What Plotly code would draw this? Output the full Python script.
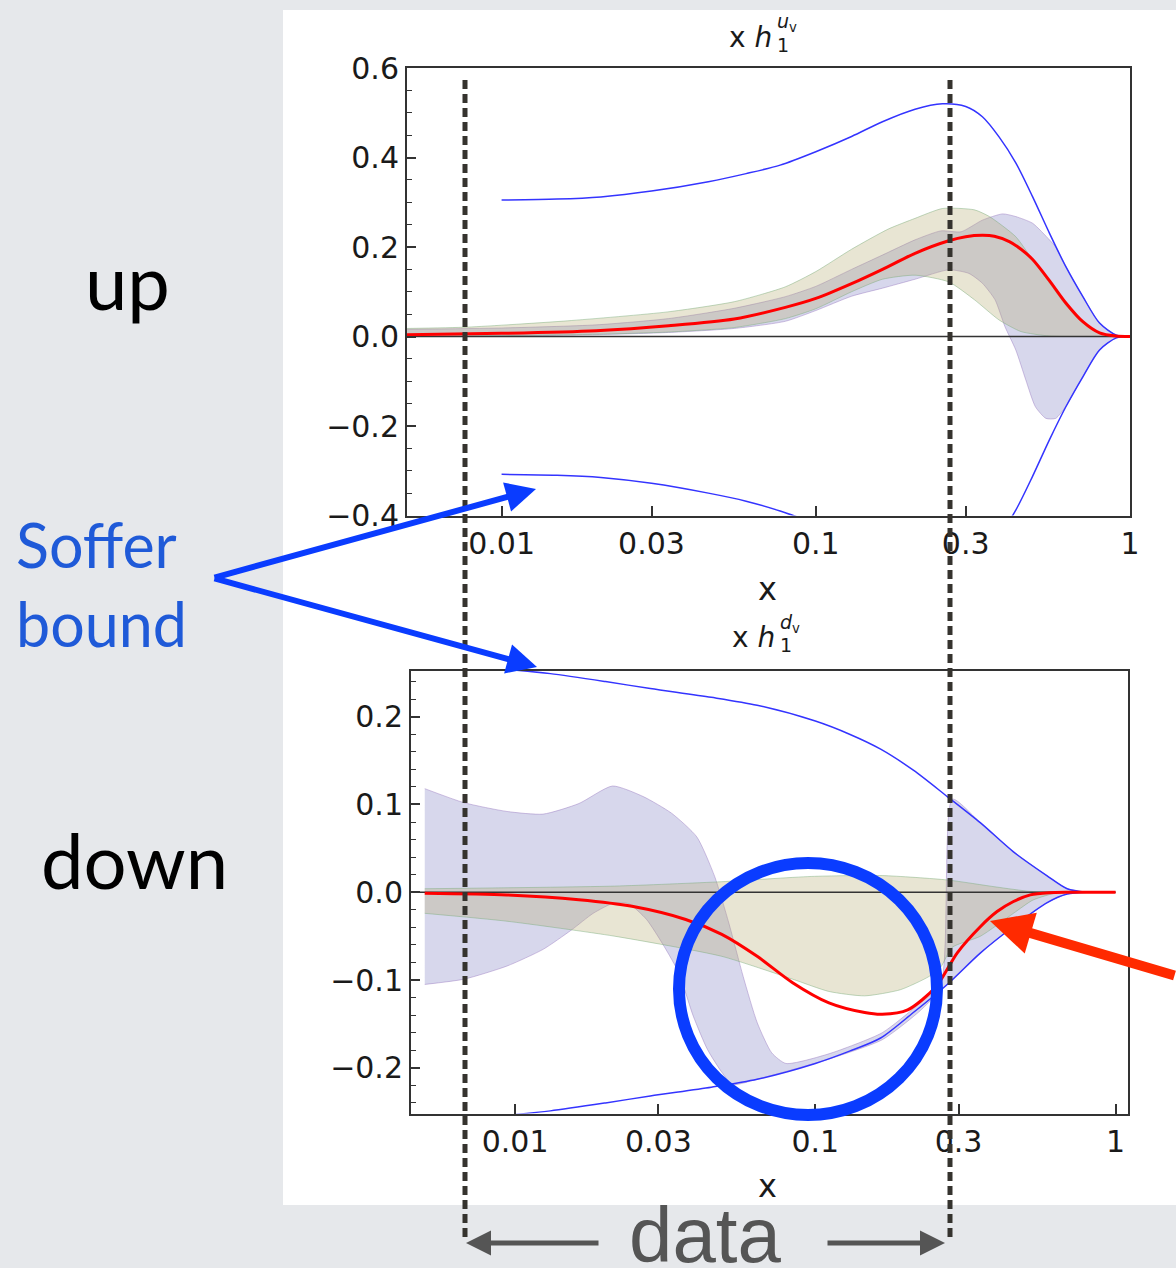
import plotly.graph_objects as go

W, H = 1176, 1268

# ---------------- upper panel: x h1^{u_v} ----------------
soffer_u_x = [0.01, 0.015, 0.0207, 0.03, 0.0455, 0.06, 0.077, 0.1, 0.13, 0.163, 0.207,
              0.253, 0.30, 0.339, 0.383, 0.433, 0.49, 0.554, 0.625, 0.708, 0.80, 0.905, 1.0]
soffer_u_hi = [0.305, 0.307, 0.312, 0.325, 0.346, 0.364, 0.383, 0.413, 0.447, 0.48, 0.508,
               0.52, 0.514, 0.491, 0.446, 0.388, 0.312, 0.231, 0.156, 0.089, 0.03, 0.003, 0.0]
soffer_u_lo = [-0.308, -0.31, -0.315, -0.328, -0.35, -0.368, -0.39, -0.418, -0.447, -0.48, -0.508,
               -0.52, -0.514, -0.491, -0.446, -0.388, -0.312, -0.231, -0.157, -0.09, -0.03, -0.003, 0.0]

band1_u_xhi = [0.005, 0.01, 0.02, 0.034, 0.055, 0.08, 0.1, 0.13, 0.163, 0.207, 0.25, 0.29,
               0.339, 0.393, 0.433, 0.49, 0.554, 0.58, 0.625, 0.708, 0.80, 0.905, 1.0]
band1_u_hi = [0.016, 0.019, 0.026, 0.040, 0.063, 0.089, 0.112, 0.15, 0.182, 0.216, 0.236, 0.234,
              0.26, 0.274, 0.268, 0.253, 0.216, 0.20, 0.156, 0.089, 0.03, 0.003, 0.0]
band1_u_xlo = [0.005, 0.01, 0.02, 0.034, 0.055, 0.08, 0.1, 0.13, 0.163, 0.207, 0.265, 0.307,
               0.339, 0.372, 0.40, 0.433, 0.466, 0.50, 0.54, 0.58, 0.625, 0.708, 0.80, 0.905, 1.0]
band1_u_lo = [0.0, 0.001, 0.004, 0.009, 0.018, 0.034, 0.058, 0.09, 0.108, 0.128, 0.149, 0.141,
              0.119, 0.082, 0.022, -0.03, -0.097, -0.157, -0.183, -0.183, -0.156, -0.089, -0.03, -0.003, 0.0]

band2_u_xhi = [0.005, 0.0078, 0.0162, 0.0338, 0.0552, 0.08, 0.1, 0.13, 0.17, 0.207, 0.253,
               0.32, 0.357, 0.433, 0.49, 0.554, 0.625, 0.708, 0.8, 0.9, 1.0]
band2_u_hi = [0.018, 0.021, 0.035, 0.055, 0.078, 0.111, 0.145, 0.195, 0.24, 0.264, 0.286,
              0.283, 0.268, 0.223, 0.171, 0.12, 0.07, 0.03, 0.008, 0.001, 0.0]
band2_u_xlo = [0.005, 0.01, 0.02, 0.034, 0.055, 0.08, 0.1, 0.13, 0.163, 0.207, 0.265, 0.32,
               0.383, 0.45, 0.554, 0.7, 1.0]
band2_u_lo = [0.0, 0.002, 0.005, 0.01, 0.02, 0.04, 0.062, 0.1, 0.128, 0.137, 0.122, 0.082,
              0.037, 0.011, 0.001, 0.0, 0.0]

central_u_x = [0.005, 0.01, 0.02, 0.034, 0.055, 0.08, 0.1, 0.13, 0.163, 0.207, 0.265, 0.3,
               0.339, 0.37, 0.413, 0.45, 0.49, 0.554, 0.625, 0.708, 0.80, 0.9, 1.0]
central_u = [0.004, 0.007, 0.013, 0.024, 0.039, 0.065, 0.085, 0.118, 0.15, 0.186, 0.214, 0.223,
             0.226, 0.224, 0.212, 0.195, 0.172, 0.125, 0.075, 0.033, 0.008, 0.001, 0.0]

# ---------------- lower panel: x h1^{d_v} ----------------
soffer_d_x = [0.01, 0.0131, 0.02, 0.0282, 0.045, 0.064, 0.1, 0.13, 0.165, 0.212, 0.275,
              0.355, 0.457, 0.59, 0.69, 0.8]
soffer_d_hi = [0.253, 0.249, 0.24, 0.232, 0.222, 0.213, 0.195, 0.18, 0.163, 0.139, 0.109,
               0.079, 0.046, 0.019, 0.004, 0.0]
soffer_d_lo = [-0.253, -0.249, -0.24, -0.232, -0.222, -0.213, -0.195, -0.181, -0.166, -0.137, -0.105,
               -0.069, -0.039, -0.012, -0.002, 0.0]

band1_d_xhi = [0.005, 0.00676, 0.0094, 0.0124, 0.0163, 0.0211, 0.0267, 0.0332, 0.0403, 0.0462,
               0.0515, 0.0575, 0.0641, 0.0716, 0.0798, 0.111, 0.167, 0.22, 0.262, 0.286,
               0.355, 0.457, 0.59, 0.69, 0.8]
band1_d_hi = [0.118, 0.102, 0.092, 0.089, 0.101, 0.121, 0.109, 0.090, 0.063, 0.018,
              -0.035, -0.096, -0.149, -0.183, -0.195, -0.184, -0.160, -0.128, -0.104, 0.106,
              0.079, 0.046, 0.019, 0.004, 0.0]
band1_d_xlo = [0.005, 0.00676, 0.0094, 0.0124, 0.0154, 0.0182, 0.0214, 0.0239, 0.0274, 0.0314,
               0.0351, 0.0392, 0.0437, 0.0488, 0.053, 0.064, 0.111, 0.167, 0.22, 0.274,
               0.355, 0.457, 0.59, 0.69, 0.8]
band1_d_lo = [-0.105, -0.099, -0.084, -0.065, -0.043, -0.024, -0.012, -0.013, -0.031, -0.062,
              -0.092, -0.141, -0.179, -0.205, -0.219, -0.213, -0.19, -0.168, -0.137, -0.105,
              -0.069, -0.039, -0.012, -0.002, 0.0]

band2_d_xhi = [0.005, 0.0214, 0.0488, 0.097, 0.167, 0.275, 0.4, 0.52, 0.7, 1.0]
band2_d_hi = [0.004, 0.007, 0.012, 0.018, 0.019, 0.014, 0.006, 0.001, 0.0, 0.0]
band2_d_xlo = [0.005, 0.0094, 0.0214, 0.0488, 0.084, 0.111, 0.146, 0.192, 0.239, 0.262,
               0.285, 0.355, 0.457, 0.53, 0.65, 1.0]
band2_d_lo = [-0.024, -0.033, -0.05, -0.073, -0.099, -0.113, -0.118, -0.111, -0.096, -0.085,
              -0.063, -0.05, -0.024, -0.009, 0.0, 0.0]

central_d_x = [0.005, 0.0094, 0.0163, 0.0245, 0.037, 0.0488, 0.064, 0.084, 0.111, 0.146,
               0.167, 0.203, 0.253, 0.297, 0.355, 0.403, 0.457, 0.52, 0.6, 0.7, 1.0]
central_d = [-0.001, -0.003, -0.0085, -0.016, -0.031, -0.048, -0.073, -0.103, -0.126, -0.137,
             -0.139, -0.134, -0.107, -0.069, -0.039, -0.022, -0.0105, -0.003, -0.0005, 0.0, 0.0]

x_tickvals = [0.01, 0.03, 0.1, 0.3, 1]
x_ticktext = ["0.01", "0.03", "0.1", "0.3", "1"]

PURPLE_FILL = "rgba(140,140,200,0.35)"
PURPLE_EDGE = "rgba(150,120,190,0.45)"
OLIVE_FILL = "rgba(180,170,110,0.30)"
OLIVE_EDGE = "rgba(120,170,120,0.45)"
SOFFER_BLUE = "#3434ff"
RED = "#ff0000"
FRAME = "#333333"
INK = "#1a1a1a"


def fx(px):
    return px / W


def fy(py):
    return 1 - py / H


def band(xhi, yhi, xlo, ylo, fill, edge, xa, ya):
    return go.Scatter(x=list(xhi) + list(xlo)[::-1], y=list(yhi) + list(ylo)[::-1],
                      fill="toself", fillcolor=fill, mode="lines",
                      line=dict(color=edge, width=1, shape="spline", smoothing=0.6),
                      xaxis=xa, yaxis=ya, hoverinfo="skip", showlegend=False)


def curve(x, y, color, width, xa, ya):
    return go.Scatter(x=x, y=y, mode="lines",
                      line=dict(color=color, width=width, shape="spline", smoothing=0.8),
                      xaxis=xa, yaxis=ya, hoverinfo="skip", showlegend=False)


fig = go.Figure()
for xa, ya, sx, shi, slo, b1, b2, cx, cy, zx in [
    ("x", "y", soffer_u_x, soffer_u_hi, soffer_u_lo,
     (band1_u_xhi, band1_u_hi, band1_u_xlo, band1_u_lo),
     (band2_u_xhi, band2_u_hi, band2_u_xlo, band2_u_lo),
     central_u_x, central_u, [0.005, 1.0]),
    ("x2", "y2", soffer_d_x, soffer_d_hi, soffer_d_lo,
     (band1_d_xhi, band1_d_hi, band1_d_xlo, band1_d_lo),
     (band2_d_xhi, band2_d_hi, band2_d_xlo, band2_d_lo),
     central_d_x, central_d, [0.0045, 1.0]),
]:
    fig.add_trace(band(*b1, PURPLE_FILL, PURPLE_EDGE, xa, ya))
    fig.add_trace(band(*b2, OLIVE_FILL, OLIVE_EDGE, xa, ya))
    fig.add_trace(go.Scatter(x=zx, y=[0, 0], mode="lines", line=dict(color=FRAME, width=1.5),
                             xaxis=xa, yaxis=ya, hoverinfo="skip", showlegend=False))
    fig.add_trace(curve(sx, shi, SOFFER_BLUE, 1.5, xa, ya))
    fig.add_trace(curve(sx, slo, SOFFER_BLUE, 1.5, xa, ya))
    fig.add_trace(curve(cx, cy, RED, 3, xa, ya))

tick_font = dict(family="DejaVu Sans", size=30, color=INK)
common_x = dict(type="log", showline=True, linecolor=FRAME, linewidth=2, mirror=True,
                ticks="inside", ticklen=10, tickwidth=1.5, tickcolor=FRAME,
                tickvals=x_tickvals, ticktext=x_ticktext, tickfont=tick_font,
                showgrid=False, zeroline=False, automargin=False)
common_y = dict(showline=True, linecolor=FRAME, linewidth=2, mirror=True,
                ticks="inside", ticklen=9, tickwidth=1.5, tickcolor=FRAME,
                tickfont=tick_font, tickformat=".1f", showgrid=False, zeroline=False,
                automargin=False)

fig.update_layout(
    width=W, height=H, margin=dict(l=0, r=0, t=0, b=0, pad=0, autoexpand=False),
    paper_bgcolor="#e6e8eb", plot_bgcolor="white",
    xaxis=dict(common_x, domain=[fx(407), fx(1130)], range=[-2.30103, 0.0], anchor="y"),
    yaxis=dict(common_y, domain=[fy(515.5), fy(68)], range=[-0.4, 0.6], dtick=0.2, tick0=0,
               minor=dict(dtick=0.05, ticks="inside", ticklen=5, tickcolor=FRAME, tickwidth=1.2),
               anchor="x"),
    xaxis2=dict(common_x, domain=[fx(411), fx(1128)], range=[-2.34679, 0.04139], anchor="y2"),
    yaxis2=dict(common_y, domain=[fy(1113.5), fy(671)], range=[-0.252, 0.252], dtick=0.1, tick0=0,
                minor=dict(dtick=0.02, ticks="inside", ticklen=5, tickcolor=FRAME, tickwidth=1.2),
                anchor="x2"),
)

shapes = [
    # white slide panel holding the plots
    dict(type="rect", xref="paper", yref="paper", x0=fx(283), x1=1.0, y0=fy(1205), y1=fy(10),
         fillcolor="white", line=dict(width=0), layer="below"),
    # dashed lines bracketing the measured x range
    dict(type="line", xref="paper", yref="paper", x0=fx(465), x1=fx(465), y0=fy(80), y1=fy(1240),
         line=dict(color="#35332e", width=5, dash="9px,5px"), layer="above"),
    dict(type="line", xref="paper", yref="paper", x0=fx(950), x1=fx(950), y0=fy(80), y1=fy(1240),
         line=dict(color="#35332e", width=5, dash="9px,5px"), layer="above"),
    # highlight circle
    dict(type="circle", xref="paper", yref="paper", x0=fx(679), x1=fx(937), y0=fy(1115), y1=fy(863),
         line=dict(color="#0a3cff", width=12), fillcolor="rgba(0,0,0,0)", layer="above"),
]
fig.update_layout(shapes=shapes)

title_font = dict(family="DejaVu Sans", size=28, color=INK)
script_font = dict(family="DejaVu Sans", size=19, color=INK)
ann = []
# panel titles: x h_1 with the flavour label stacked above the subscript
for dy, dxs, flav in [(0, 0, "u"), (600, 3, "d")]:
    ann += [
        dict(text="x <i>h</i>", x=fx(774 + dxs), y=fy(37 + dy), xanchor="right", font=title_font),
        dict(text="1", x=fx(775 + dxs), y=fy(45 + dy), xanchor="left", font=script_font),
        dict(text="<i>%s</i><sub>v</sub>" % flav, x=fx(775 + dxs), y=fy(23 + dy), xanchor="left",
             font=script_font),
    ]
ann += [
    # x-axis titles
    dict(text="x", x=fx(768), y=fy(589), font=dict(family="DejaVu Sans", size=32, color=INK)),
    dict(text="x", x=fx(768), y=fy(1186), font=dict(family="DejaVu Sans", size=32, color=INK)),
    # slide labels
    dict(text="up", x=fx(127), y=fy(281), font=dict(family="Lato", size=76, color="black")),
    dict(text="down", x=fx(134), y=fy(859), font=dict(family="Lato", size=76, color="black")),
    dict(text="Soffer<br>bound", x=fx(14), y=fy(584), xanchor="left", align="left",
         font=dict(family="Lato", size=61, color="#1f5ad8")),
    dict(text="data", x=fx(705), y=fy(1235), font=dict(family="Liberation Sans", size=78, color="#555555")),
]
for a in ann:
    a.setdefault("xanchor", "center")
    a.update(xref="paper", yref="paper", yanchor="middle", showarrow=False)

arrows = [
    # Soffer bound pointers
    dict(x=fx(536), y=fy(489), ax=213 - 536, ay=578 - 489, color="#0a3cff", w=6, s=1.0),
    dict(x=fx(537), y=fy(667), ax=213 - 537, ay=578 - 667, color="#0a3cff", w=6, s=1.0),
    # central curve pointer
    dict(x=fx(990), y=fy(921), ax=1176 - 990, ay=976 - 921, color="#ff2a00", w=10, s=0.85),
    # data range arrows
    dict(x=fx(466), y=fy(1243), ax=600 - 466, ay=0, color="#555555", w=5, s=1.0),
    dict(x=fx(945), y=fy(1243), ax=826 - 945, ay=0, color="#555555", w=5, s=1.0),
]
for a in arrows:
    ann.append(dict(x=a["x"], y=a["y"], xref="paper", yref="paper", ax=a["ax"], ay=a["ay"],
                    axref="pixel", ayref="pixel", showarrow=True, arrowhead=2, arrowsize=a["s"],
                    arrowwidth=a["w"], arrowcolor=a["color"], text=""))
fig.update_layout(annotations=ann)

fig.write_html("out.html")
